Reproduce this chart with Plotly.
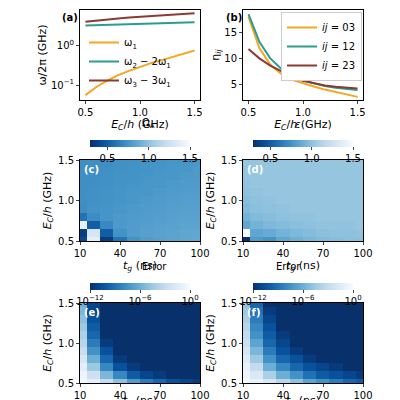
import plotly.graph_objects as go

# panel (a): transition frequencies vs E_C
ec = [0.5, 0.6, 0.7, 0.8, 0.9, 1.0, 1.1, 1.2, 1.3, 1.4, 1.5]
w1 = [0.056, 0.09, 0.13, 0.18, 0.23, 0.29, 0.36, 0.43, 0.52, 0.62, 0.75]
w2 = [3.2, 3.25, 3.3, 3.37, 3.44, 3.5, 3.58, 3.66, 3.74, 3.82, 3.9]
w3 = [4.0, 4.3, 4.6, 4.85, 5.1, 5.35, 5.6, 5.85, 6.1, 6.35, 6.6]

# panel (b): eta_ij vs E_C
eta03 = [18.0, 12.0, 8.8, 7.0, 5.9, 5.2, 4.6, 4.0, 3.5, 3.0, 2.6]
eta12 = [18.5, 13.2, 10.0, 8.0, 6.7, 5.8, 5.2, 4.7, 4.35, 4.1, 3.9]
eta23 = [11.8, 10.0, 8.6, 7.5, 6.5, 5.7, 5.2, 4.8, 4.55, 4.35, 4.2]

# heatmaps: rows E_C 0.5..1.5, cols t_g 10..100
tg = [10, 20, 30, 40, 50, 60, 70, 80, 90, 100]
omega_a = [
    [0.4, 1.4, 0.35, 0.6, 0.75, 0.8, 0.82, 0.84, 0.85, 0.86],
    [0.35, 1.3, 0.5, 0.75, 0.8, 0.82, 0.83, 0.84, 0.85, 0.85],
    [1.4, 0.5, 0.7, 0.78, 0.8, 0.81, 0.82, 0.83, 0.84, 0.84],
    [0.6, 0.72, 0.76, 0.78, 0.79, 0.8, 0.81, 0.82, 0.83, 0.83],
    [0.72, 0.75, 0.76, 0.77, 0.78, 0.79, 0.8, 0.81, 0.82, 0.82],
    [0.73, 0.74, 0.75, 0.76, 0.77, 0.78, 0.79, 0.8, 0.81, 0.81],
    [0.73, 0.74, 0.75, 0.76, 0.77, 0.77, 0.78, 0.79, 0.8, 0.8],
    [0.73, 0.73, 0.74, 0.75, 0.76, 0.77, 0.77, 0.78, 0.79, 0.79],
    [0.73, 0.73, 0.74, 0.75, 0.75, 0.76, 0.77, 0.77, 0.78, 0.78],
    [0.73, 0.73, 0.73, 0.74, 0.75, 0.75, 0.76, 0.77, 0.77, 0.78],
    [0.73, 0.73, 0.73, 0.74, 0.74, 0.75, 0.75, 0.76, 0.76, 0.77],
]
epsilon = [
    [0.3, 0.8, 0.75, 0.85, 0.9, 0.94, 0.96, 0.98, 0.99, 0.99],
    [1.5, 0.85, 0.88, 0.92, 0.95, 0.97, 0.99, 1.0, 1.0, 1.01],
    [0.85, 0.92, 0.95, 0.97, 0.99, 1.0, 1.01, 1.01, 1.01, 1.02],
    [0.92, 0.96, 0.98, 1.0, 1.01, 1.01, 1.02, 1.02, 1.02, 1.02],
    [0.96, 0.99, 1.0, 1.01, 1.02, 1.02, 1.02, 1.02, 1.02, 1.02],
    [0.98, 1.0, 1.01, 1.02, 1.02, 1.02, 1.02, 1.02, 1.02, 1.02],
    [1.0, 1.01, 1.02, 1.02, 1.02, 1.02, 1.02, 1.02, 1.02, 1.02],
    [1.01, 1.02, 1.02, 1.02, 1.02, 1.02, 1.02, 1.02, 1.02, 1.02],
    [1.02, 1.02, 1.02, 1.02, 1.02, 1.02, 1.02, 1.02, 1.02, 1.02],
    [1.02, 1.02, 1.02, 1.02, 1.02, 1.02, 1.02, 1.02, 1.02, 1.02],
    [1.02, 1.02, 1.02, 1.02, 1.02, 1.02, 1.02, 1.02, 1.02, 1.02],
]
# log10(error)
err_e = [
    [-0.3, -1.0, -3.0, -5.0, -7.0, -8.5, -9.5, -10.5, -11.0, -11.5],
    [-0.6, -2.5, -5.5, -8.0, -10.0, -11.0, -11.5, -12.0, -12.0, -12.0],
    [-1.2, -4.5, -8.0, -10.5, -11.5, -12.0, -12.0, -12.0, -12.0, -12.0],
    [-2.0, -6.0, -9.5, -11.5, -12.0, -12.0, -12.0, -12.0, -12.0, -12.0],
    [-2.8, -7.5, -10.5, -12.0, -12.0, -12.0, -12.0, -12.0, -12.0, -12.0],
    [-3.5, -8.5, -11.5, -12.0, -12.0, -12.0, -12.0, -12.0, -12.0, -12.0],
    [-4.0, -9.5, -12.0, -12.0, -12.0, -12.0, -12.0, -12.0, -12.0, -12.0],
    [-4.5, -10.0, -12.0, -12.0, -12.0, -12.0, -12.0, -12.0, -12.0, -12.0],
    [-5.0, -10.5, -12.0, -12.0, -12.0, -12.0, -12.0, -12.0, -12.0, -12.0],
    [-5.5, -11.0, -12.0, -12.0, -12.0, -12.0, -12.0, -12.0, -12.0, -12.0],
    [-6.0, -11.0, -12.0, -12.0, -12.0, -12.0, -12.0, -12.0, -12.0, -12.0],
]
err_f = [
    [-0.2, -0.8, -2.0, -3.5, -5.0, -6.5, -7.5, -8.5, -9.5, -10.0],
    [-0.4, -1.8, -4.0, -6.0, -7.5, -9.0, -10.0, -10.5, -11.0, -11.5],
    [-0.8, -3.0, -6.0, -8.0, -9.5, -10.5, -11.0, -11.5, -12.0, -12.0],
    [-1.4, -4.5, -7.5, -9.5, -10.5, -11.5, -12.0, -12.0, -12.0, -12.0],
    [-2.0, -5.5, -8.5, -10.5, -11.5, -12.0, -12.0, -12.0, -12.0, -12.0],
    [-2.6, -6.5, -9.5, -11.0, -12.0, -12.0, -12.0, -12.0, -12.0, -12.0],
    [-3.0, -7.5, -10.0, -11.5, -12.0, -12.0, -12.0, -12.0, -12.0, -12.0],
    [-3.5, -8.0, -10.5, -12.0, -12.0, -12.0, -12.0, -12.0, -12.0, -12.0],
    [-4.0, -8.5, -11.0, -12.0, -12.0, -12.0, -12.0, -12.0, -12.0, -12.0],
    [-4.5, -9.0, -11.5, -12.0, -12.0, -12.0, -12.0, -12.0, -12.0, -12.0],
    [-5.0, -9.5, -12.0, -12.0, -12.0, -12.0, -12.0, -12.0, -12.0, -12.0],
]

ORANGE, TEAL, BROWN = "#f5a623", "#2a9d8f", "#8c3b32"
BLUES_R = [[0, "#08306b"], [0.125, "#08519c"], [0.25, "#2171b5"], [0.375, "#4292c6"],
           [0.5, "#6baed6"], [0.625, "#9ecae1"], [0.75, "#c6dbef"], [0.875, "#deebf7"],
           [1, "#f7fbff"]]
FONT = "DejaVu Sans"
EC_TITLE = "<i>E<sub>C</sub></i>/<i>h</i> (GHz)"
TG_TITLE = "<i>t<sub>g</sub></i> (ns)"

fig = go.Figure()

# domains (paper fractions)
xl, xr = [0.18, 0.48], [0.5875, 0.8875]
ytop, ymid, ybot = [0.77, 0.995], [0.4175, 0.62], [0.0625, 0.2625]

for name, ys, c in [("ω<sub>1</sub>", w1, ORANGE),
                    ("ω<sub>2</sub> − 2ω<sub>1</sub>", w2, TEAL),
                    ("ω<sub>3</sub> − 3ω<sub>1</sub>", w3, BROWN)]:
    fig.add_trace(go.Scatter(x=ec, y=ys, mode="lines", name=name, line=dict(color=c, width=2),
                             xaxis="x", yaxis="y", legend="legend"))
for name, ys, c in [("<i>ij</i> = 03", eta03, ORANGE),
                    ("<i>ij</i> = 12", eta12, TEAL),
                    ("<i>ij</i> = 23", eta23, BROWN)]:
    fig.add_trace(go.Scatter(x=ec, y=ys, mode="lines", name=name, line=dict(color=c, width=2),
                             xaxis="x2", yaxis="y2", legend="legend2"))


def cbar(xd, yc, ticks, text):
    return dict(orientation="h", x=sum(xd) / 2, xanchor="center", y=yc, yanchor="middle",
                len=xd[1] - xd[0], lenmode="fraction", thickness=7, outlinewidth=0,
                tickvals=ticks, ticktext=text, ticks="outside", ticklen=3,
                ticklabelposition="outside top", tickfont=dict(size=10))


fig.add_trace(go.Heatmap(x=tg, y=ec, z=omega_a, colorscale=BLUES_R, zmin=0.29, zmax=1.5,
                         xaxis="x3", yaxis="y3",
                         colorbar=cbar(xl, 0.64, [0.5, 1.0, 1.5], ["0.5", "1.0", "1.5"])))
fig.add_trace(go.Heatmap(x=tg, y=ec, z=epsilon, colorscale=BLUES_R, zmin=0.29, zmax=1.5,
                         xaxis="x4", yaxis="y4",
                         colorbar=cbar(xr, 0.64, [0.5, 1.0, 1.5], ["0.5", "1.0", "1.5"])))
etick = ["10<sup>−12</sup>", "10<sup>−6</sup>", "10<sup>0</sup>"]
fig.add_trace(go.Heatmap(x=tg, y=ec, z=err_e, colorscale=BLUES_R, zmin=-12, zmax=0,
                         xaxis="x5", yaxis="y5",
                         colorbar=cbar(xl, 0.283, [-12, -6, 0], etick)))
fig.add_trace(go.Heatmap(x=tg, y=ec, z=err_f, colorscale=BLUES_R, zmin=-12, zmax=0,
                         xaxis="x6", yaxis="y6",
                         colorbar=cbar(xr, 0.283, [-12, -6, 0], etick)))

ax = dict(showline=True, mirror=True, linecolor="black", linewidth=1, ticks="outside",
          ticklen=3, showgrid=False, zeroline=False, tickfont=dict(size=10), automargin=False)
tfont = dict(size=11)
hx = dict(ax, range=[10, 100], tickvals=[10, 40, 70, 100],
          title=dict(text=TG_TITLE, standoff=2, font=tfont))
hy = dict(ax, range=[0.5, 1.5], tickvals=[0.5, 1.0, 1.5], ticktext=["0.5", "1.0", "1.5"],
          title=dict(text=EC_TITLE, standoff=4, font=tfont))
ecx = dict(ax, range=[0.45, 1.55], tickvals=[0.5, 1.0, 1.5], ticktext=["0.5", "1.0", "1.5"],
           title=dict(text=EC_TITLE, standoff=2, font=tfont))

fig.update_layout(
    width=400, height=400, margin=dict(l=0, r=0, t=0, b=0, autoexpand=False),
    paper_bgcolor="white", plot_bgcolor="white",
    font=dict(family=FONT, size=10, color="black"),
    xaxis=dict(ecx, domain=xl, anchor="y"),
    yaxis=dict(ax, domain=ytop, anchor="x", type="log", range=[-1.375, 0.9],
               tickvals=[0.1, 1], ticktext=["10<sup>−1</sup>", "10<sup>0</sup>"],
               title=dict(text="ω/2π (GHz)", standoff=2, font=tfont)),
    xaxis2=dict(ecx, domain=xr, anchor="y2"),
    yaxis2=dict(ax, domain=ytop, anchor="x2", range=[2, 19.3], tickvals=[5, 10, 15],
                title=dict(text="η<sub><i>ij</i></sub>", standoff=2, font=tfont)),
    xaxis3=dict(hx, domain=xl, anchor="y3"), yaxis3=dict(hy, domain=ymid, anchor="x3"),
    xaxis4=dict(hx, domain=xr, anchor="y4"), yaxis4=dict(hy, domain=ymid, anchor="x4"),
    xaxis5=dict(hx, domain=xl, anchor="y5"), yaxis5=dict(hy, domain=ybot, anchor="x5"),
    xaxis6=dict(hx, domain=xr, anchor="y6"), yaxis6=dict(hy, domain=ybot, anchor="x6"),
    legend=dict(x=0.19, y=0.95, xanchor="left", yanchor="top", bgcolor="rgba(255,255,255,0)",
                font=dict(size=10), tracegroupgap=0, itemwidth=30),
    legend2=dict(x=0.885, y=0.99, xanchor="right", yanchor="top", bgcolor="white",
                 bordercolor="#cccccc", borderwidth=1, font=dict(size=10), itemwidth=30),
)

ann = [("<b>(a)</b>", 0.13, 0.995, "black"), ("<b>(b)</b>", 0.54, 0.995, "black"),
       ("<b>(c)</b>", 0.185, 0.615, "white"), ("<b>(d)</b>", 0.5925, 0.615, "white"),
       ("<b>(e)</b>", 0.185, 0.258, "white"), ("<b>(f)</b>", 0.5925, 0.258, "white")]
for t, x, y, c in ann:
    fig.add_annotation(text=t, x=x, y=y, xref="paper", yref="paper", xanchor="left",
                       yanchor="top", showarrow=False, font=dict(size=10, color=c))
for t, x, y in [("Ω<sub>A</sub>", 0.33, 0.69), ("<i>ε</i>", 0.7375, 0.69),
                ("Error", 0.33, 0.335), ("Error", 0.7375, 0.335)]:
    fig.add_annotation(text=t, x=x, y=y, xref="paper", yref="paper", yanchor="bottom",
                       showarrow=False, font=dict(size=10))

fig.write_html("out.html")
